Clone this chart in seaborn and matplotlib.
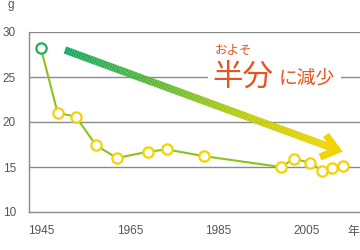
import numpy as np
import pandas as pd
import matplotlib
matplotlib.use("Agg")
import matplotlib.pyplot as plt
import seaborn as sns
from matplotlib.collections import LineCollection
from matplotlib.colors import LinearSegmentedColormap

years = [1947.8, 1951.6, 1955.7, 1960.3, 1965.0, 1972.0, 1976.3, 1984.8, 2002.1, 2005.0, 2008.6, 2011.3, 2013.7, 2016.1]
grams = [28.2, 21.0, 20.6, 17.4, 16.0, 16.7, 16.95, 16.2, 15.0, 15.9, 15.5, 14.6, 14.9, 15.1]
x_ticks = [1945, 1965, 1985, 2005]
y_ticks = [10, 15, 20, 25, 30]

sns.set_theme(style="white")
plt.rcParams['font.family'] = ['Liberation Sans', 'Noto Sans CJK JP', 'DejaVu Sans']

df = pd.DataFrame({"year": years, "g": grams})

W, H = 360, 250
fig = plt.figure(figsize=(W / 100, H / 100), dpi=100)
ax = fig.add_axes([28.5 / W, 38 / H, 1 - 28.5 / W, 180 / H])

grey = "#8a8a8a"
for yv in y_ticks[1:]:
    ax.axhline(yv, color=grey, lw=1.0, zorder=0)

sns.lineplot(data=df, x="year", y="g", ax=ax, color="#8cc21f", lw=1.5, zorder=2)
ax.scatter(df["year"][1:], df["g"][1:], s=55, facecolor="white", edgecolor="#f5d200", lw=1.6, zorder=3)
ax.scatter(df["year"][:1], df["g"][:1], s=55, facecolor="white", edgecolor="#1fae5a", lw=1.6, zorder=3)

ax.set_xlim(1945, 2020)
ax.set_ylim(10, 30)
ax.set_xticks(x_ticks)
ax.set_yticks(y_ticks)
ax.set_xticklabels([str(v) for v in x_ticks], ha="left")
ax.set_yticklabels([str(v) for v in y_ticks])
ax.tick_params(axis="x", direction="in", length=6, width=1, color=grey, pad=9, labelsize=8.5, labelcolor="#555555")
ax.tick_params(axis="y", length=0, pad=9, labelsize=8.5, labelcolor="#555555")
ax.set_xlabel("")
ax.set_ylabel("")
for s in ["top", "right"]:
    ax.spines[s].set_visible(False)
for s in ["left", "bottom"]:
    ax.spines[s].set_color(grey)
    ax.spines[s].set_linewidth(1.0)


def fp(x, y):
    """pixel (from top-left) -> figure fraction"""
    return x / W, 1 - y / H


# gradient arrow in figure pixel coordinates
(ax0, ay0), (ax1, ay1) = fp(65, 50), fp(331, 147.5)
n = 120
xs = np.linspace(ax0, ax1, n)
ys = np.linspace(ay0, ay1, n)
pts = np.array([xs, ys]).T.reshape(-1, 1, 2)
segs = np.concatenate([pts[:-1], pts[1:]], axis=1)
cmap = LinearSegmentedColormap.from_list("g", ["#16a862", "#5bb83a", "#b9cc10", "#f2d400"])
lc = LineCollection(segs, cmap=cmap, linewidths=5.4, capstyle="butt", transform=fig.transFigure, zorder=4)
lc.set_array(np.linspace(0, 1, n - 1))
fig.add_artist(lc)
hx = [fp(326, 135)[0], fp(337, 150)[0], fp(320, 157)[0]]
hy = [fp(326, 135)[1], fp(337, 150)[1], fp(320, 157)[1]]
fig.add_artist(plt.Line2D(hx, hy, color="#f2d400", lw=5.2, solid_joinstyle="miter",
                          solid_capstyle="butt", transform=fig.transFigure, zorder=5))

orange = "#e8541e"
jp = ['Noto Sans CJK JP', 'DejaVu Sans']
fig.text(*fp(233, 50), "およそ", family=jp, color=orange, fontsize=9, ha="center", va="center")
fig.text(*fp(242.5, 77), "半分", family=jp, color=orange, fontsize=22, ha="center", va="center",
         bbox=dict(facecolor="white", edgecolor="none", pad=3))
fig.text(*fp(307, 79), "に減少", family=jp, color=orange, fontsize=13.5, ha="center", va="center",
         bbox=dict(facecolor="white", edgecolor="none", pad=4))

fig.text(*fp(8, 5), "g", color="#555555", fontsize=8.5, ha="left", va="center")
fig.text(*fp(347, 231), "年", family=jp, color="#555555", fontsize=8.5, ha="left", va="center")

fig.savefig("out.png", dpi=100)
